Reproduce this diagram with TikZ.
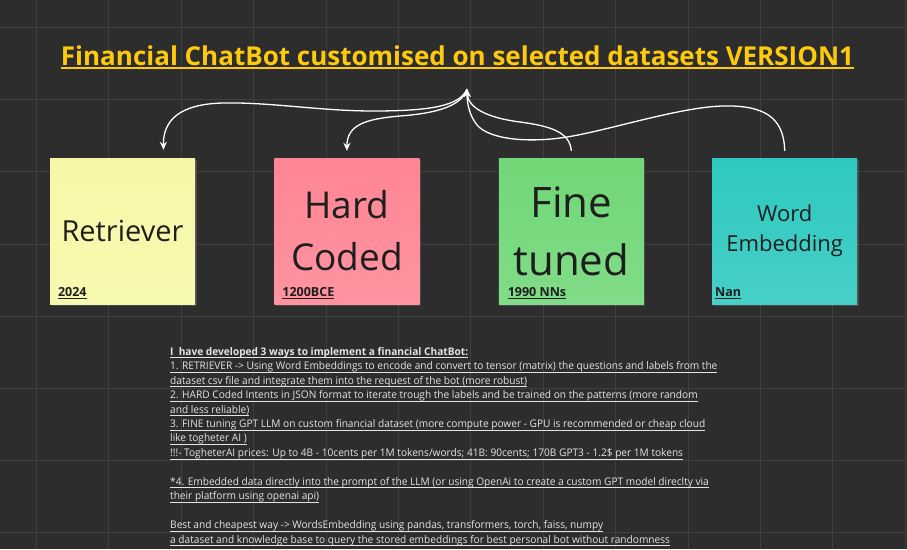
\documentclass[tikz,border=0pt]{standalone}
\usepackage{fontspec}
\setmainfont{Open Sans}
\newfontfamily\titlefont{Open Sans}
\newfontfamily\bodyfont[FakeStretch=0.965]{Open Sans}
\usetikzlibrary{arrows.meta,positioning,shadows}
\definecolor{board}{HTML}{2D2D2D}
\definecolor{gridln}{HTML}{3F3F3F}
\definecolor{gold}{HTML}{FFC90E}
\definecolor{ink}{HTML}{1E1E1E}
\definecolor{paper}{HTML}{E4E4E4}
\definecolor{lemon}{HTML}{F7F8A6}
\definecolor{rose}{HTML}{FF8594}
\definecolor{leaf}{HTML}{70D777}
\definecolor{aqua}{HTML}{2DC9C0}
% underline with a rule of our own
\newcommand{\ulin}[2][0.7pt]{\setbox0=\hbox{#2}\rlap{\rule[-2.8pt]{\wd0}{#1}}\box0}
\tikzset{
  note/.style={rectangle,inner sep=0pt,top color=#1,bottom color=#1!88!white,
               minimum width=145pt,minimum height=146pt,align=center,text=ink,
               drop shadow={opacity=0.35,shadow xshift=1.5pt,shadow yshift=-2pt}},
  tag/.style={inner sep=0pt,anchor=base west,text=ink,
              font=\fontsize{12.5}{14}\selectfont\bfseries},
  lnk/.style={draw=white,line width=1.3pt},
  arr/.style={lnk,-{Stealth[length=8pt,width=7pt]}},
}

\begin{document}
\begin{tikzpicture}[x=1pt,y=-1pt]

  %% -- board ---------------------------------------------------------------
  \fill[board] (0,0) rectangle (907,549);
  \useasboundingbox (0,0) rectangle (907,549);
  \foreach \gx in {0,...,12}
    \draw[gridln,line width=1pt] (36.5+72.4*\gx,0) -- (36.5+72.4*\gx,549);
  \foreach \gy in {0,...,7}
    \draw[gridln,line width=1pt] (0,27.5+72.2*\gy) -- (907,27.5+72.2*\gy);

  %% -- title ---------------------------------------------------------------
  \node[text=gold,inner sep=0pt,anchor=base,
        font=\titlefont\fontsize{26}{30}\selectfont\bfseries]
        (title) at (457.5,65) {Financial ChatBot customised on selected datasets VERSION1};
  \draw[gold,line width=2pt] ([yshift=-3pt]title.base west) -- ([yshift=-3pt]title.base east);

  %% -- sticky notes --------------------------------------------------------
  \node[note=lemon,font=\fontsize{29}{40}\selectfont] (ret) at (122.5,231) {Retriever};
  \node[note=rose,right=79pt of ret,font=\fontsize{37}{52}\selectfont]  (hc) {Hard\\Coded};
  \node[note=leaf,right=79pt of hc,font=\fontsize{42}{58}\selectfont]   (ft) {Fine\\tuned};
  \node[note=aqua,right=68pt of ft,font=\fontsize{22}{30}\selectfont]   (we) {Word\\Embedding};

  \node[tag] (ret-yr) at ([xshift=8pt,yshift=8pt]ret.south west) {\ulin[0.9pt]{2024}};
  \node[tag] (hc-yr)  at ([xshift=8pt,yshift=8pt]hc.south west)  {\ulin[0.9pt]{1200BCE}};
  \node[tag] (ft-yr)  at ([xshift=9pt,yshift=8pt]ft.south west)  {\ulin[0.9pt]{1990 NNs}};
  \node[tag] (we-yr)  at ([xshift=3pt,yshift=8pt]we.south west)  {\ulin[0.9pt]{Nan}};

  %% -- connectors ----------------------------------------------------------
  \coordinate (hub) at (467,89);
  \draw[arr] (hub) .. controls (460,106) and (430,111) .. (373,111)
    .. controls (320,111) and (270,102) .. (223,103)
    .. controls (180,104) and (163,120) .. ([xshift=41pt,yshift=8pt]ret.north);
  \draw[arr] (hub) .. controls (462,105) and (440,113) .. (400,116)
    .. controls (365,119) and (347,125) .. ([yshift=7pt]hc.north);
  \draw[arr] ([yshift=7pt]ft.north) .. controls (570,132) and (550,126) .. (520,122)
    .. controls (488,118) and (468,108) .. (hub);
  \draw[arr] ([yshift=7pt]we.north) .. controls (784,118) and (765,105) .. (723,106)
    .. controls (680,107) and (610,130) .. (567,137)
    .. controls (530,143) and (490,140) .. (477,125)
    .. controls (470,116) and (467,105) .. (hub);

  %% -- notes text ----------------------------------------------------------
  \node[inner sep=0pt,anchor=north west,align=left,text=paper,
        font=\bodyfont\fontsize{10.5}{14.45}\selectfont] (body) at (170,347) {%
    \ulin[0.6pt]{\bfseries I\ \ have developed 3 ways to implement a financial ChatBot:}\\
    \ulin[0.6pt]{1. RETRIEVER -> Using Word Embeddings to encode and convert to tensor (matrix) the questions and labels from the}\\
    \ulin[0.6pt]{dataset csv file and integrate them into the request of the bot (more robust)}\\
    \ulin[0.6pt]{2. HARD Coded Intents in JSON format to iterate trough the labels and be trained on the patterns (more random}\\
    \ulin[0.6pt]{and less reliable)}\\
    \ulin[0.6pt]{3. FINE tuning GPT LLM on custom financial dataset (more compute power - GPU is recommended or cheap cloud}\\
    \ulin[0.6pt]{like togheter AI )}\\
    \ulin[0.6pt]{!!!- TogheterAI prices: Up to 4B - 10cents per 1M tokens/words; 41B: 90cents; 170B GPT3 - 1.2\$ per 1M tokens}\\[14.45pt]
    \ulin[0.6pt]{*4. Embedded data directly into the prompt of the LLM (or using OpenAi to create a custom GPT model direclty via}\\
    \ulin[0.6pt]{their platform using openai api)}\\[14.45pt]
    \ulin[0.6pt]{Best and cheapest way -> WordsEmbedding using pandas, transformers, torch, faiss, numpy}\\
    \ulin[0.6pt]{a dataset and knowledge base to query the stored embeddings for best personal bot without randomness}};

\end{tikzpicture}
\end{document}
